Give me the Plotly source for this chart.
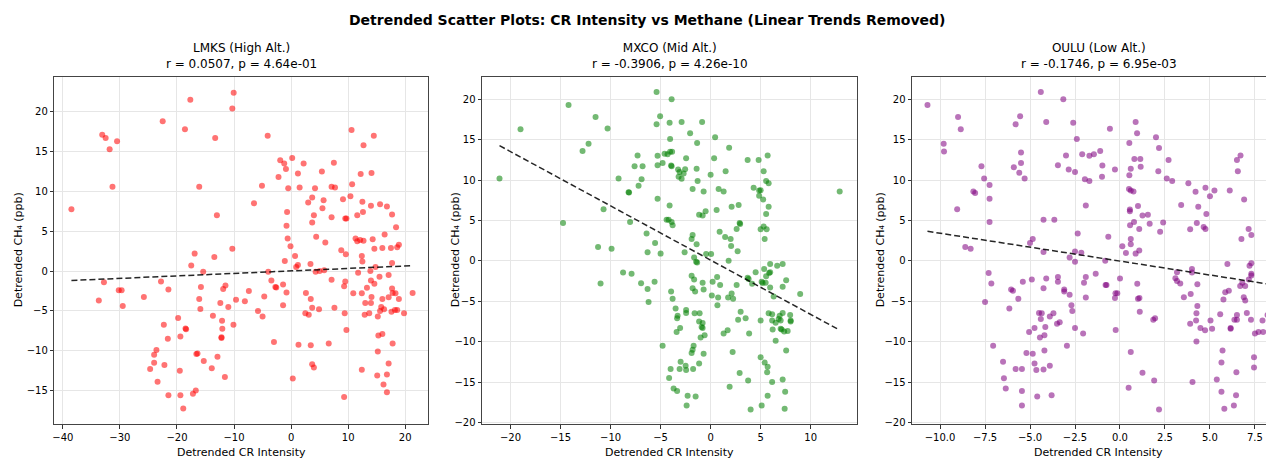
import numpy as np
import plotly.graph_objects as go

# ---------------- data ----------------
lmks_x = [-10.06, -17.66, -10.3, -22.5, -18.6, -33.1, -32.5, -30.5, -31.8, -13.3, -31.3, -16.1, -38.5, -13.0, -10.3, -16.9, -13.45,
          -17.5, -15.4, -32.8, -30.2, -29.7, -33.7, -29.5, -25.8, -22.8, -21.5, -15.8, -11.5, -11.9, -16.1, -15.9, -12.4, -11.0, -9.65,
          -19.8, -13.7, -12.1, -22.3, -18.5, -18.4, -12.05, -10.1, -19.4, -21.6, -12.2, -12.2, -23.6, -24.0, -16.6, -16.4, -12.9, -24.0,
          -22.2, -15.3, -24.7, -19.5, -13.9, -23.4, -11.6, -21.5, -19.4, -17.2, -16.7, -18.9,
          10.6, 14.5, 12.7, -4.1, 0.2, -1.9, -1.2, -0.9, 2.2, 7.5, 1.2, -2.2, 5.4, 12.2, 14.1, -5.1, -0.5, 1.5, 4.2, 7.1, 7.7, 10.7,
          -6.5, 3.7, 3.0, 5.7, 9.1, 10.4, 12.5, 14.0, 15.6, 16.8, -0.7, 4.0, 5.5, 12.6, 11.6, 17.7, 9.5, 9.7, 7.1, 3.7, -0.8, 18.4,
          16.4, -0.6, 4.4, 6.0, 11.3, 11.6, 12.1, 12.7, 14.3, -0.1, 8.8, 14.6, 16.0, 17.5, 18.6, 18.9,
          0.7, -1.1, 0.9, 1.2, 3.4, 9.6, 12.4, 12.5, 17.7, 14.8, -4.0, 4.3, 5.0, 5.8, 11.75, 13.9, 17.1, 15.5, -3.45, -2.75, -2.6,
          -7.4, -1.4, -0.8, 7.1, 9.5, 9.3, 14.0, 14.6, 13.3, 10.9, 12.4, 17.7, 17.8, 18.3, 17.1, 18.9, 21.3, 14.1, 16.0, 2.6, 3.45,
          -4.7, -8.1, -1.4, 3.7, 4.9, 7.6, 13.0, 14.0, 15.8, 16.3, 15.6, 17.6, 18.2, 18.6, 19.8, -5.8, -5.0, 2.5, 3.1, 9.4, 12.9,
          13.7, 15.2, 9.7, 16.0, 15.3, -3.0, 1.3, 3.45, 6.6, 17.8, 15.2, 3.7, 4.0, 17.1, 12.4, 16.8, 15.1, 0.3, 16.2, 16.8, 9.3]
lmks_y = [22.4, 21.5, 20.4, 18.8, 17.8, 17.1, 16.7, 16.3, 15.3, 16.7, 10.6, 10.6, 7.75, 7.0, 2.8, 2.2, 1.75,
          0.7, -0.1, -1.4, -2.4, -2.4, -3.7, -4.4, -3.25, -1.3, -2.3, -2.0, -1.8, -2.25, -3.5, -4.75, -4.0, -4.5, -3.6,
          -5.9, -5.6, -6.25, -6.75, -7.2, -7.3, -7.25, -6.75, -8.2, -8.5, -8.3, -8.4, -9.9, -10.5, -10.4, -10.35, -10.75, -11.5,
          -11.8, -11.3, -12.3, -12.5, -12.2, -13.9, -13.3, -15.6, -15.6, -15.4, -15.0, -17.25,
          17.7, 17.0, 15.8, 17.0, 14.2, 13.9, 13.5, 12.8, 13.5, 13.6, 12.25, 11.8, 12.5, 12.2, 12.3, 10.7, 10.4, 10.5, 10.4, 10.6, 10.5, 10.9,
          8.5, 9.25, 8.6, 8.9, 9.0, 9.4, 8.7, 8.2, 8.4, 8.1, 7.4, 7.0, 7.9, 7.4, 7.0, 7.1, 6.6, 6.6, 6.75, 6.1, 5.7, 5.5,
          4.6, 4.1, 4.3, 3.6, 4.1, 3.75, 3.9, 3.8, 4.0, 3.1, 2.6, 2.8, 2.9, 2.9, 3.0, 3.3,
          1.9, 1.25, 0.5, 0.75, 0.9, 2.1, 1.9, 1.2, 1.0, 0.5, -0.1, -0.1, 0.0, 0.1, -0.2, 0.0, -0.5, -0.7, -1.2, -2.0, -2.05,
          -2.5, -1.7, -2.7, -1.1, -1.3, -1.9, -1.2, -1.6, -2.1, -2.8, -2.8, -2.2, -2.75, -2.8, -3.3, -3.5, -2.75, -3.25, -3.5, -2.75, -3.5,
          -3.2, -3.8, -4.3, -4.6, -4.8, -4.6, -4.0, -4.0, -4.5, -4.8, -5.0, -5.1, -4.9, -4.9, -5.3, -5.0, -5.7, -5.3, -5.5, -5.3, -5.5,
          -5.3, -5.7, -7.4, -7.9, -8.1, -8.9, -9.25, -9.3, -9.1, -9.1, -10.1, -11.7, -12.1, -11.6, -12.4, -13.0, -13.1, -13.5, -14.25, -15.2, -15.8]

mxco_x = [-21.1, -19.0, -14.2, -11.5, -10.3, -12.2, -12.8, -5.4, -5.05, -5.4, -7.3, -7.6, -6.8, -5.3, -5.3, -4.8, -4.6, -9.2, -6.9,
          -7.2, -8.2, -8.15, -5.3, -10.7, -14.75, -8.05, -4.4, -4.2, -6.4, -5.55, -11.25, -9.9, -6.3, -5.0,
          -8.75, -7.9, -11.0, -6.95, -5.6, -6.3, -6.2, -4.8,
          -3.9, -4.1, -2.9, -0.85, -2.05, -4.05, 0.45, -1.35, 1.85, -4.3, -4.05, -3.85, -3.95, -3.9, -2.45, 0.35, 3.7, 4.8, 5.7,
          -3.25, -2.55, -2.7, -3.1, -3.2, -2.9, -1.4, 0.0, 1.5, 5.3, -1.3, 5.55, 5.8, -1.8, -0.7, 0.8, 1.3, 4.3, 4.85, 5.0, 4.85,
          5.25, 12.9, -4.1, 2.1, 2.8, 5.8, -1.15, -0.8, -0.5, 0.6, 5.55, -3.9, -3.8, 2.6, 2.9, 2.95, 5.0, 5.3, 5.6, 0.9, 1.45, 2.0,
          -1.8, -1.9, -1.4, 2.05, 5.4, 2.7, -2.6, -0.45, 0.05,
          -1.65, -1.45, -1.35, 1.8, -1.9, -1.65, -1.8, -1.55, -0.8, -0.7, 0.2, 0.65, 0.95, 0.12, 0.75, 0.68, 1.75, 2.1, 2.25, 2.6,
          3.7, 3.8, 4.5, 4.15, 5.35, 5.95, 6.65, 7.2, 5.55, 5.85, 5.95, 5.1, 5.2, 5.5, 5.95, 6.3, 7.2, 7.55, 8.95, -3.95, -3.8,
          -3.5, -3.3, -3.35, -2.45, -2.45, -1.6, -1.1, -1.15, -0.8, -0.9, -0.8, -3.05, -3.4, -1.0, -0.6, 1.3, 1.7, 3.0, 2.75, 3.5,
          3.85, 5.0, 5.8, 6.15, 6.9, 7.2, 7.95, 6.15, 6.5, 6.8, 7.0, 8.0, 8.0, 6.2, 7.0, 7.1, 7.35, 7.7, 6.5, -1.7, -1.8, -1.9,
          -0.7, 2.2, 5.0, 5.4, 5.7, 5.65, 7.55, -3.0, -2.5, -2.45, -3.1, -4.0, -1.75, -1.15, -4.15, 2.9, 3.75, 6.15, 7.2, 7.45,
          -3.7, -3.35, -2.3, -1.5, -2.4, 1.9, 5.7, 5.1, 7.4, 4.0]
mxco_y = [10.2, 16.3, 19.3, 17.8, 16.4, 14.5, 13.6, 20.9, 17.9, 16.9, 13.05, 11.7, 11.7, 13.0, 11.85, 12.1, 13.25, 10.2, 10.1,
          9.3, 8.5, 8.45, 7.7, 6.4, 4.7, 4.8, 5.1, 5.1, 3.4, 2.2, 1.7, 1.5, 1.05, 0.9,
          -1.45, -1.6, -2.8, -2.77, -2.6, -3.5, -5.1, -10.5,
          20.0, 17.1, 17.2, 17.2, 15.8, 15.1, 15.3, 14.6, 14.0, 13.2, 13.5, 13.5, 11.8, 11.7, 12.7, 12.7, 12.5, 12.5, 13.05,
          11.3, 11.35, 10.8, 11.0, 10.4, 10.15, 11.4, 10.65, 11.1, 11.1, 9.9, 9.9, 9.6, 8.9, 8.6, 8.9, 8.6, 9.05, 8.7, 8.75, 8.05,
          7.6, 8.6, 6.85, 6.7, 6.9, 6.7, 5.7, 5.6, 6.15, 6.3, 5.8, 4.8, 4.4, 3.95, 4.7, 4.55, 3.9, 4.25, 3.9, 3.6, 2.95, 2.7,
          3.2, 2.7, 2.05, 1.85, 2.7, 1.2, 1.05, 0.85, 0.85,
          0.41, -0.1, -0.2, 0.0, -1.86, -2.3, -3.4, -3.8, -2.7, -3.56, -2.6, -2.0, -3.0, -4.3, -4.55, -5.5, -4.55, -4.05, -4.7, -3.0,
          -2.1, -2.25, -1.4, -2.85, -1.0, -0.4, -0.6, -0.4, -1.9, -1.5, -1.4, -2.6, -2.75, -2.7, -3.3, -4.4, -3.2, -2.4, -4.1, -3.8, -4.7,
          -5.9, -6.8, -7.1, -6.1, -6.45, -6.5, -6.5, -7.5, -7.7, -8.2, -8.3, -8.3, -8.8, -9.5, -9.2, -9.0, -8.6, -6.3, -7.3, -7.1,
          -9.0, -7.4, -6.5, -6.6, -6.8, -6.45, -6.7, -7.4, -7.65, -7.2, -7.4, -7.4, -7.5, -8.5, -8.4, -8.5, -8.75, -8.7, -9.9, -10.5, -11.0, -11.4,
          -11.5, -11.3, -11.95, -12.6, -13.1, -13.8, -11.1, -12.5, -13.0, -13.5, -13.4, -13.4, -13.4, -12.7, -14.5, -13.9, -14.8, -15.0, -14.7, -16.2,
          -15.8, -16.1, -16.7, -16.8, -17.9, -15.6, -16.7, -17.9, -18.3, -18.4]

oulu_x = [-10.7, -9.0, -8.85, -9.8, -9.78, -7.7, -7.55, -7.25, -8.15, -8.05, -7.25, -9.05, -7.25, -8.6, -8.3, -4.4, -3.15, -5.55,
          -5.8, -4.1, -2.6, -2.4, -5.5, -3.0, -2.1, -5.5, -5.9, -3.45, -2.85, -2.5, -5.6, -5.3, -1.95, -4.25, -3.65, -2.35, -5.0,
          -4.85, -4.25, -2.5, -2.15,
          0.87, -0.56, 0.95, 2.0, 0.52, 2.17, -1.1, -1.45, -1.7, 0.8, 1.13, 2.7, -0.98, 0.6, 1.15, -0.28, 2.13, 6.5, 6.7, 6.55,
          -1.0, 0.52, -1.7, 2.6, 2.9, 3.8, 0.5, 0.6, 0.75, 4.2, 4.75, 5.0, 5.25, 6.1, 6.9, -1.9, 3.4, 4.35, 4.8, 0.55, 0.55, 1.0,
          1.25, 1.55, 0.78, 0.56, 1.65, 2.4, 1.07, 2.23, 4.27, 3.9, 4.65, 4.75, 7.15, 7.3, 6.75, -0.65, 0.6, 0.6, 0.13, 1.07, 0.33, 0.87,
          -0.82, -7.3, -7.15, -7.5, -7.05, -6.5, -6.45, -6.35, -6.05, -5.95, -5.65, -6.15, -5.4, -4.9, -5.05, -4.75, -5.2, -4.85,
          -4.75, -5.8, -5.45, -4.65, -4.25, -3.9, -5.45, -4.6, -3.8, -5.45, -4.25, -4.1, -4.5, -4.35, -4.4, -4.2, -4.15, -4.45, -4.2,
          -3.9, -3.7, -3.5, -3.35, -3.45, -3.45, -3.1, -3.1, -2.95, -2.8, -2.7, -2.65, -2.5, -2.8, -2.5, -2.05, -2.0, -1.9, -1.9,
          -1.35, -0.8, -0.75, 0.0, -0.25, -0.15, -0.28, -0.24, 0.6, 0.48, 0.96, 1.0, 1.08, 1.1, 1.25, 1.85, 1.95, 1.9, 2.17, 3.08,
          3.17, 3.17, 3.35, 3.55, 3.9, 3.93, 4.0, 4.0, 4.3, 4.23, 4.25, 4.3, 4.25, 4.47, 4.73, 4.03, 5.03, 5.12, 5.38, 5.57, 5.64,
          5.64, 5.7, 5.75, 5.85, 5.8, 5.97, 6.05, 6.15, 6.15, 6.33, 6.36, 6.45, 6.47, 6.5, 6.5, 6.68, 6.8, 6.88, 6.96, 6.96, 7.05,
          7.16, 7.2, 7.28, 7.3, 7.3, 7.3, 7.45, 7.45, 7.5, 7.7, 7.92, 7.96, 8.2]
oulu_y = [19.3, 17.8, 16.3, 14.5, 13.55, 11.7, 10.2, 9.4, 8.6, 8.4, 7.7, 6.4, 4.8, 1.7, 1.5, 20.9, 20.0, 17.9,
          16.9, 17.2, 17.1, 15.1, 13.4, 13.05, 13.2, 12.1, 11.6, 11.85, 11.3, 11.0, 10.9, 10.2, 10.1, 5.1, 5.1, 3.4, 2.2,
          2.7, 1.1, 1.15, 1.0,
          17.2, 16.35, 15.8, 15.3, 14.6, 13.96, 13.6, 13.2, 13.0, 12.6, 12.6, 12.5, 11.8, 11.4, 11.65, 11.3, 11.1, 12.5, 13.05, 11.1,
          10.4, 10.6, 9.9, 10.2, 9.9, 9.6, 8.9, 8.7, 8.6, 8.55, 9.05, 8.0, 8.7, 8.7, 7.6, 6.85, 6.9, 6.7, 5.8, 6.35, 6.15, 6.8,
          5.6, 5.7, 4.8, 4.4, 4.6, 4.75, 3.95, 3.6, 4.7, 3.9, 4.2, 3.95, 3.95, 3.2, 2.7, 2.97, 2.7, 2.05, 1.8, 1.27, 0.98, 0.9,
          0.0, -1.5, -2.8, -5.1, -10.5, -12.5, -14.55, -15.8, -3.55, -3.7, -4.7, -5.9, -2.6, -2.3, -8.8, -8.3, -11.4, -11.5,
          -12.7, -13.4, -13.4, -13.5, -13.45, -13.0, -16.1, -16.8, -16.65, -17.9, -3.4, -2.2, -6.45, -6.5, -7.2, -9.2, -8.2, -9.5, -11.1,
          -6.9, -6.5, -7.8, -7.6, -2.6, -2.0, -3.55, -3.8, -10.5, -4.2, -5.5, -6.2, -8.3, 0.4, -0.1, -9.0, -2.7, -2.0, -4.55,
          -1.6, -3.0, -3.0, -2.2, -4.0, -4.0, -4.6, -8.55, -11.3, -15.7, -2.85, -4.7, -4.6, -6.3, -13.85, -7.3, -7.1, -14.8, -18.4, -2.15,
          -2.5, -1.4, -2.8, -4.5, -7.8, -4.1, -1.0, -1.45, -2.9, -7.4, -6.5, -5.6, -10.0, -8.3, -8.6, -15.0, -7.4, -8.4, -14.7, -6.6, -12.6,
          -16.2, -11.1, -4.8, -3.9, -18.3, -0.4, -3.7, -8.4, -8.3, -17.9, -7.3, -16.65, -13.8, -7.3, -6.7, -3.1, -2.7, -4.5, -4.9, -3.1, -6.45,
          -2.3, -0.6, -7.3, -0.3, -1.6, -1.8, -11.95, -13.2, -9.0, -8.8, -7.4, -8.8, -6.7]

stations = ["LMKS", "MXCO", "OULU"]
altitudes = ["High Alt.", "Mid Alt.", "Low Alt."]
r_text = ["0.0507", "-0.3906", "-0.1746"]
p_text = ["4.64e-01", "4.26e-10", "6.95e-03"]
xs = [lmks_x, mxco_x, oulu_x]
ys = [lmks_y, mxco_y, oulu_y]
colors = ["rgba(255,0,0,0.55)", "rgba(0,128,0,0.55)", "rgba(128,0,128,0.55)"]

# ---------------- layout geometry (page pixels; the page body has an 8px margin) ----------------
OFF = 8
W, H = 1274 - OFF, 460 - OFF


def fx(px):
    return (px - OFF) / W


def fy(py):
    return 1 - (py - OFF) / H


x_ranges = [[-41.5, 24.0], [-22.85, 14.6], [-11.56, 8.56]]
y_ranges = [[-19.2, 24.4], [-20.2, 22.8], [-20.2, 22.8]]
x_dticks = [10, 5, 2.5]
x_formats = ["d", "d", ".1f"]
px_left = [54.3, 482, 912]
px_right = [428, 856.7, 1274]
px_center = [241, 669.5, 1098.5]
py_top, py_bot = 76.7, 424
ytitle_px = [18, 455, 880]

FONT = "DejaVu Sans"
fig = go.Figure()
annotations = []
for i in range(3):
    ax = "" if i == 0 else str(i + 1)
    x = np.array(xs[i]); y = np.array(ys[i])
    fig.add_trace(go.Scatter(x=x, y=y, mode="markers", xaxis="x" + ax, yaxis="y" + ax,
                             marker=dict(size=6, color=colors[i], line=dict(width=0)),
                             showlegend=False, hoverinfo="skip"))
    m, b = np.polyfit(x, y, 1)
    xl = np.array([x.min(), x.max()])
    fig.add_trace(go.Scatter(x=xl, y=m * xl + b, mode="lines", xaxis="x" + ax, yaxis="y" + ax,
                             line=dict(color="rgba(0,0,0,0.85)", width=1.5, dash="6px,3px"),
                             showlegend=False, hoverinfo="skip"))
    common = dict(showgrid=True, gridcolor="#e6e6e6", gridwidth=1, zeroline=False,
                  showline=True, linecolor="#444", linewidth=1, mirror=True,
                  ticks="outside", ticklen=3.5, tickwidth=0.8, tickcolor="#333",
                  tickfont=dict(family=FONT, size=10, color="#000"), automargin=False)
    fig.layout["xaxis" + ax] = dict(common, range=x_ranges[i], dtick=x_dticks[i], tick0=0,
                                    tickformat=x_formats[i],
                                    domain=[fx(px_left[i]), min(1.0, fx(px_right[i]))],
                                    anchor="y" + ax)
    fig.layout["yaxis" + ax] = dict(common, range=y_ranges[i], dtick=5, tick0=0,
                                    domain=[fy(py_bot), fy(py_top)],
                                    anchor="x" + ax)
    cx = fx(px_center[i])
    annotations.append(dict(text=f"{stations[i]} ({altitudes[i]})<br>r = {r_text[i]}, p = {p_text[i]}",
                            x=cx, y=fy(73), xref="paper", yref="paper",
                            xanchor="center", yanchor="bottom", showarrow=False,
                            font=dict(family=FONT, size=12, color="#000")))
    annotations.append(dict(text="Detrended CR Intensity", x=cx, y=fy(452), xref="paper", yref="paper",
                            xanchor="center", yanchor="middle", showarrow=False,
                            font=dict(family=FONT, size=11, color="#000")))
    annotations.append(dict(text="Detrended CH₄ (ppb)", x=fx(ytitle_px[i]),
                            y=fy((py_top + py_bot) / 2), xref="paper", yref="paper",
                            xanchor="center", yanchor="middle", textangle=-90, showarrow=False,
                            font=dict(family=FONT, size=11, color="#000")))

annotations.append(dict(text="<b>Detrended Scatter Plots: CR Intensity vs Methane (Linear Trends Removed)</b>",
                        x=fx(647), y=fy(20), xref="paper", yref="paper", xanchor="center", yanchor="middle",
                        showarrow=False, font=dict(family=FONT, size=14, color="#000")))

fig.update_layout(width=W, height=H, margin=dict(l=0, r=0, t=0, b=0),
                  paper_bgcolor="white", plot_bgcolor="white", annotations=annotations)
fig.write_html("out.html")
